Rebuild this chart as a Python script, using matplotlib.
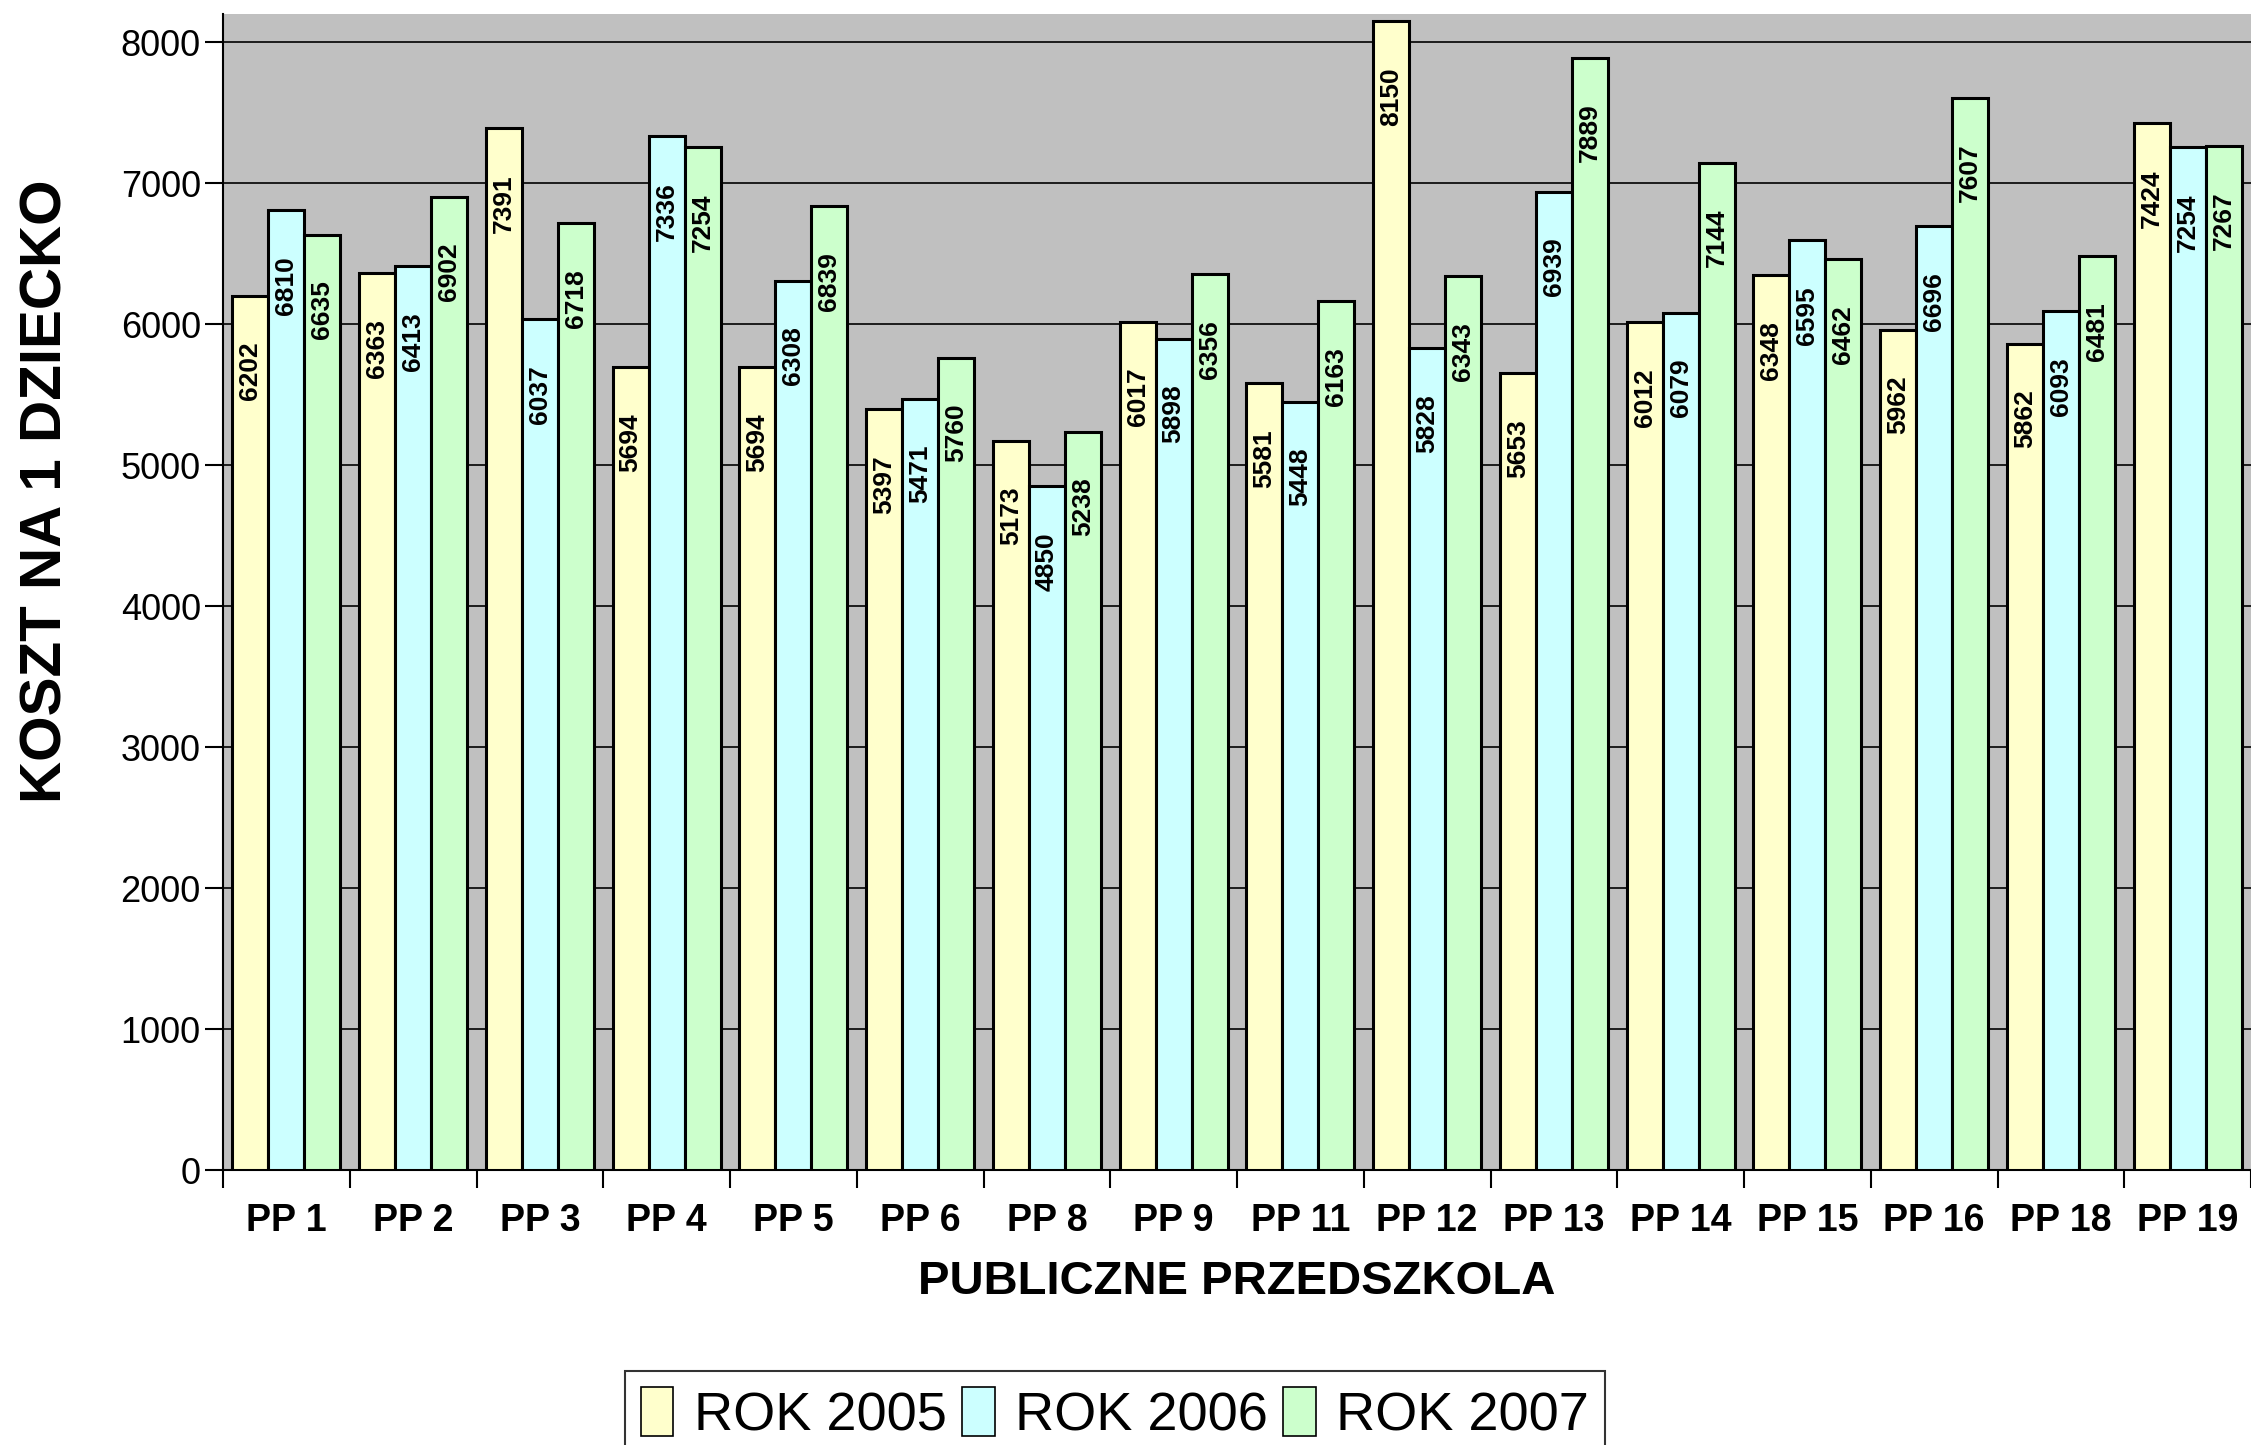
import matplotlib
matplotlib.use("Agg")
import matplotlib.pyplot as plt
import numpy as np

# Dane: koszt na 1 dziecko w publicznych przedszkolach
kategorie = ["PP 1", "PP 2", "PP 3", "PP 4", "PP 5", "PP 6", "PP 8", "PP 9",
             "PP 11", "PP 12", "PP 13", "PP 14", "PP 15", "PP 16", "PP 18", "PP 19"]
rok_2005 = [6202, 6363, 7391, 5694, 5694, 5397, 5173, 6017,
            5581, 8150, 5653, 6012, 6348, 5962, 5862, 7424]
rok_2006 = [6810, 6413, 6037, 7336, 6308, 5471, 4850, 5898,
            5448, 5828, 6939, 6079, 6595, 6696, 6093, 7254]
rok_2007 = [6635, 6902, 6718, 7254, 6839, 5760, 5238, 6356,
            6163, 6343, 7889, 7144, 6462, 7607, 6481, 7267]
serie = ["ROK 2005", "ROK 2006", "ROK 2007"]
kolory = ["#FFFFCC", "#CCFFFF", "#CCFFCC"]

plt.rcParams['font.family'] = ['Liberation Sans', 'DejaVu Sans']

W, H = 2251, 1445
fig = plt.figure(figsize=(W / 100, H / 100), dpi=100)
ax = fig.add_axes([223 / W, 1 - 1170 / H, (W - 223) / W, (1170 - 14) / H])
ax.set_facecolor("#C0C0C0")

x = np.arange(len(kategorie)) + 0.5
szer = 0.284
for k, (dane, nazwa, kol) in enumerate(zip([rok_2005, rok_2006, rok_2007], serie, kolory)):
    pos = x + (k - 1) * szer
    bars = ax.bar(pos, dane, width=szer, color=kol, edgecolor="black",
                  linewidth=2.2, label=nazwa, zorder=3)
    for b, v in zip(bars, dane):
        ax.annotate(str(v), (b.get_x() + b.get_width() / 2, v),
                    xytext=(0, -33), textcoords="offset points",
                    rotation=90, ha="center", va="top",
                    fontsize=19, fontweight="bold", zorder=4)

ax.set_xlim(0, len(kategorie))
ax.set_ylim(0, 8200)
ax.set_yticks(np.arange(0, 8001, 1000))
ax.yaxis.grid(True, color="black", linewidth=1.2, zorder=1)
ax.set_axisbelow(True)

ax.set_xticks(x)
ax.set_xticklabels(kategorie, fontsize=27, fontweight="bold")
ax.set_xticks(np.arange(0, len(kategorie) + 1), minor=True)
ax.tick_params(axis="x", which="major", length=0, pad=24)
ax.tick_params(axis="x", which="minor", length=13, width=1.5, direction="out")
ax.tick_params(axis="y", labelsize=26, length=13, width=1.5, pad=3)

for s in ["top", "right"]:
    ax.spines[s].set_visible(False)
ax.spines["left"].set_linewidth(1.5)
ax.spines["bottom"].set_linewidth(1.5)

fig.text(47 / W, 1 - 491 / H, "KOSZT NA 1 DZIECKO", rotation=90,
         ha="center", va="center", fontsize=42, fontweight="bold")
fig.text(1237 / W, 1 - 1282 / H, "PUBLICZNE PRZEDSZKOLA",
         ha="center", va="center", fontsize=34, fontweight="bold")

leg = fig.legend(loc="upper center", bbox_to_anchor=(1115 / W, 1 - 1371 / H),
                 ncol=3, fontsize=39, borderaxespad=0,
                 handlelength=0.6, handleheight=1.0, handletextpad=0.38,
                 columnspacing=0.28, borderpad=0.3, fancybox=False,
                 frameon=True)
leg.get_frame().set_edgecolor("black")
leg.get_frame().set_linewidth(1.5)
for h in leg.legend_handles:
    h.set_linewidth(1.2)

plt.savefig("out.png", dpi=100)
